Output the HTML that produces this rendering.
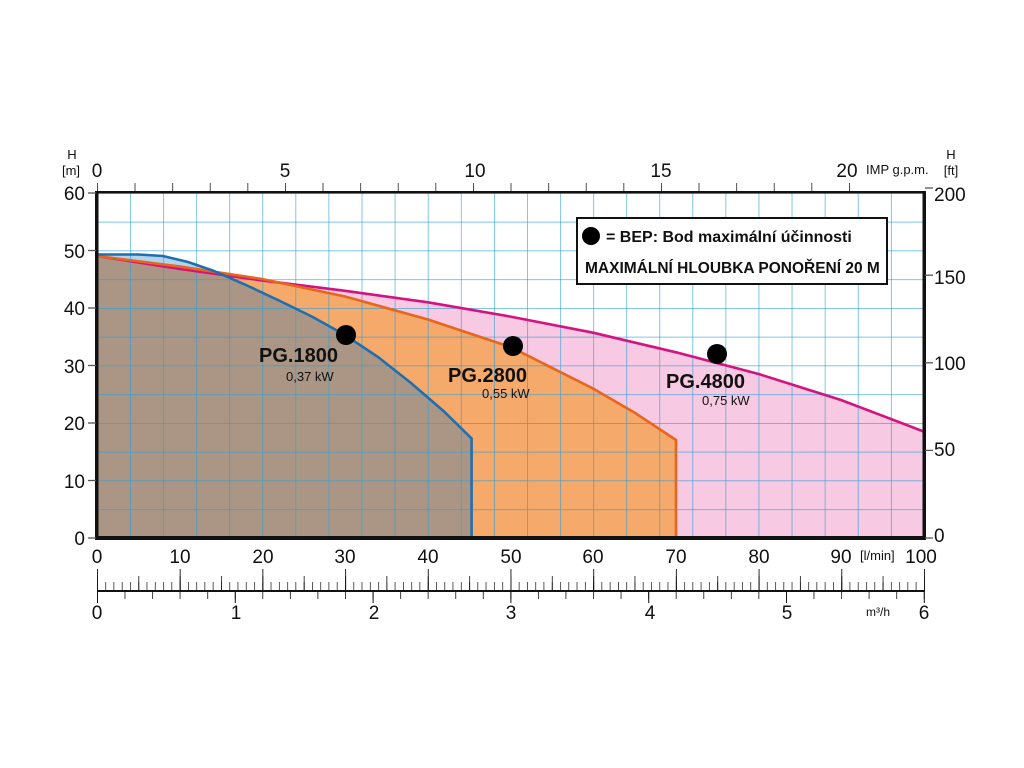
<!DOCTYPE html>
<html><head><meta charset="utf-8"><style>
html,body{margin:0;padding:0;background:#fff}
svg{display:block}
text{font-family:"Liberation Sans Narrow","Liberation Sans",sans-serif;fill:#111}
</style></head><body>
<svg width="1024" height="768" viewBox="0 0 1024 768" xmlns="http://www.w3.org/2000/svg">
<defs>
<pattern id="gv" x="97" y="0" width="33.08" height="10" patternUnits="userSpaceOnUse"><rect x="-0.7" y="0" width="1.4" height="10" fill="#2a9fd6"/></pattern>
<pattern id="gh" x="0" y="193" width="10" height="28.75" patternUnits="userSpaceOnUse"><rect x="0" y="-0.7" width="10" height="1.4" fill="#2a9fd6"/></pattern>
<pattern id="t1" x="97" y="0" width="8.27" height="800" patternUnits="userSpaceOnUse"><rect x="-0.7" y="0" width="1.4" height="800" fill="#111"/></pattern>
<pattern id="t5" x="97" y="0" width="41.35" height="800" patternUnits="userSpaceOnUse"><rect x="-0.8" y="0" width="1.6" height="800" fill="#111"/></pattern>
<pattern id="t10" x="97" y="0" width="82.7" height="800" patternUnits="userSpaceOnUse"><rect x="-0.9" y="0" width="1.8" height="800" fill="#111"/></pattern>
<pattern id="b02" x="97" y="0" width="27.56" height="800" patternUnits="userSpaceOnUse"><rect x="-0.8" y="0" width="1.6" height="800" fill="#111"/></pattern>
<pattern id="b1" x="97" y="0" width="137.8" height="800" patternUnits="userSpaceOnUse"><rect x="-1" y="0" width="2" height="800" fill="#111"/></pattern>
<pattern id="tg" x="97" y="0" width="37.6" height="800" patternUnits="userSpaceOnUse"><rect x="-0.8" y="0" width="1.6" height="800" fill="#222"/></pattern>
<clipPath id="co"><path d="M97,256 L180,266.6 L262,279 L345,296.5 L428,319.5 L510.5,347 L593,388.5 L634.5,412.6 L676,440 L676,538 L97,538 Z"/></clipPath>
</defs>

<path d="M97,256 L180,269 L262,280.4 L345,290.8 L428,302.3 L510.5,316.6 L593,332.7 L676,352.3 L758.6,374 L841,400 L924,431.6 L924,538 L97,538 Z" fill="#f7c9e2"/>
<path d="M97,254.5 L138.4,254.5 L163,256 L188,262 L213,270.6 L246,285 L279,300.5 L312,316.6 L345,335 L378,357 L411,383 L444,411.5 L471.6,438.5 L471.6,538 L97,538 Z" fill="#b3d3ea"/>
<path d="M97,256 L180,266.6 L262,279 L345,296.5 L428,319.5 L510.5,347 L593,388.5 L634.5,412.6 L676,440 L676,538 L97,538 Z" fill="#f5a96b"/>
<path clip-path="url(#co)" d="M97,254.5 L138.4,254.5 L163,256 L188,262 L213,270.6 L246,285 L279,300.5 L312,316.6 L345,335 L378,357 L411,383 L444,411.5 L471.6,438.5 L471.6,538 L97,538 Z" fill="#ab9685"/>

<rect x="97" y="193" width="827" height="345" fill="url(#gv)" opacity="0.85"/>
<rect x="97" y="193" width="827" height="345" fill="url(#gh)" opacity="0.85"/>

<path d="M97,256 L180,269 L262,280.4 L345,290.8 L428,302.3 L510.5,316.6 L593,332.7 L676,352.3 L758.6,374 L841,400 L924,431.6 L924,538" fill="none" stroke="#d5127e" stroke-width="2.6"/>
<path d="M97,256 L180,266.6 L262,279 L345,296.5 L428,319.5 L510.5,347 L593,388.5 L634.5,412.6 L676,440 L676,538" fill="none" stroke="#e8661c" stroke-width="2.6"/>
<path d="M97,254.5 L138.4,254.5 L163,256 L188,262 L213,270.6 L246,285 L279,300.5 L312,316.6 L345,335 L378,357 L411,383 L444,411.5 L471.6,438.5 L471.6,538" fill="none" stroke="#1f6fb0" stroke-width="2.6"/>

<rect x="97" y="191" width="827" height="2.5" fill="#111"/>
<rect x="95" y="191" width="3.5" height="349" fill="#111"/>
<rect x="922.5" y="191" width="3.5" height="349" fill="#111"/>
<rect x="95" y="536" width="831" height="4" fill="#111"/>

<g stroke="#555" stroke-width="1.3">
<line x1="88" y1="193" x2="96" y2="193"/><line x1="88" y1="250.5" x2="96" y2="250.5"/><line x1="88" y1="308" x2="96" y2="308"/><line x1="88" y1="365.5" x2="96" y2="365.5"/><line x1="88" y1="423" x2="96" y2="423"/><line x1="88" y1="480.5" x2="96" y2="480.5"/><line x1="88" y1="538" x2="96" y2="538"/>
<line x1="925" y1="188" x2="933" y2="188"/><line x1="925" y1="275.2" x2="933" y2="275.2"/><line x1="925" y1="362.8" x2="933" y2="362.8"/><line x1="925" y1="450.4" x2="933" y2="450.4"/><line x1="925" y1="538" x2="933" y2="538"/>
</g>
<rect x="96" y="183" width="790" height="8" fill="url(#tg)"/>

<rect x="97" y="590" width="828" height="2" fill="#111"/>
<rect x="96" y="582" width="830" height="8" fill="url(#t1)"/>
<rect x="96" y="576" width="830" height="14" fill="url(#t5)"/>
<rect x="96" y="569" width="830" height="21" fill="url(#t10)"/>
<rect x="96" y="592" width="830" height="7" fill="url(#b02)"/>
<rect x="96" y="592" width="830" height="11" fill="url(#b1)"/>

<g font-size="19" text-anchor="end">
<text x="85" y="200">60</text><text x="85" y="258">50</text><text x="85" y="315">40</text><text x="85" y="373">30</text><text x="85" y="430">20</text><text x="85" y="488">10</text><text x="85" y="545">0</text>
</g>
<text x="72" y="159" font-size="13" text-anchor="middle">H</text>
<text x="71" y="175" font-size="13" text-anchor="middle">[m]</text>
<g font-size="19">
<text x="934" y="201">200</text><text x="934" y="284">150</text><text x="934" y="370">100</text><text x="934" y="456">50</text><text x="934" y="542">0</text>
</g>
<text x="951" y="159" font-size="13" text-anchor="middle">H</text>
<text x="951" y="175" font-size="13" text-anchor="middle">[ft]</text>
<g font-size="19" text-anchor="middle">
<text x="97" y="177">0</text><text x="285" y="177">5</text><text x="475" y="177">10</text><text x="661" y="177">15</text><text x="847" y="177">20</text>
</g>
<text x="866" y="174" font-size="13">IMP g.p.m.</text>
<g font-size="19" text-anchor="middle">
<text x="97" y="563">0</text><text x="180" y="563">10</text><text x="263" y="563">20</text><text x="345" y="563">30</text><text x="428" y="563">40</text><text x="511" y="563">50</text><text x="593" y="563">60</text><text x="676" y="563">70</text><text x="759" y="563">80</text><text x="841" y="563">90</text><text x="921" y="563">100</text>
</g>
<text x="860" y="560" font-size="13">[l/min]</text>
<g font-size="19" text-anchor="middle">
<text x="97" y="619">0</text><text x="236" y="619">1</text><text x="374" y="619">2</text><text x="511" y="619">3</text><text x="650" y="619">4</text><text x="787" y="619">5</text><text x="924" y="619">6</text>
</g>
<text x="866" y="616" font-size="12">m³/h</text>

<rect x="577" y="218" width="310" height="66" fill="#fff" stroke="#111" stroke-width="2"/>
<circle cx="591" cy="236" r="9" fill="#000"/>
<text x="606" y="242" font-size="16" font-weight="bold">= BEP: Bod maximální účinnosti</text>
<text x="585" y="273" font-size="15.5" font-weight="bold">MAXIMÁLNÍ HLOUBKA PONOŘENÍ 20 M</text>

<circle cx="346" cy="335" r="10" fill="#000"/>
<circle cx="513" cy="346" r="10" fill="#000"/>
<circle cx="717" cy="354" r="10" fill="#000"/>
<g font-weight="bold" font-size="20">
<text x="259" y="362">PG.1800</text>
<text x="448" y="382">PG.2800</text>
<text x="666" y="388">PG.4800</text>
</g>
<g font-size="13">
<text x="286" y="381">0,37 kW</text>
<text x="482" y="398">0,55 kW</text>
<text x="702" y="405">0,75 kW</text>
</g>
</svg>
</body></html>
